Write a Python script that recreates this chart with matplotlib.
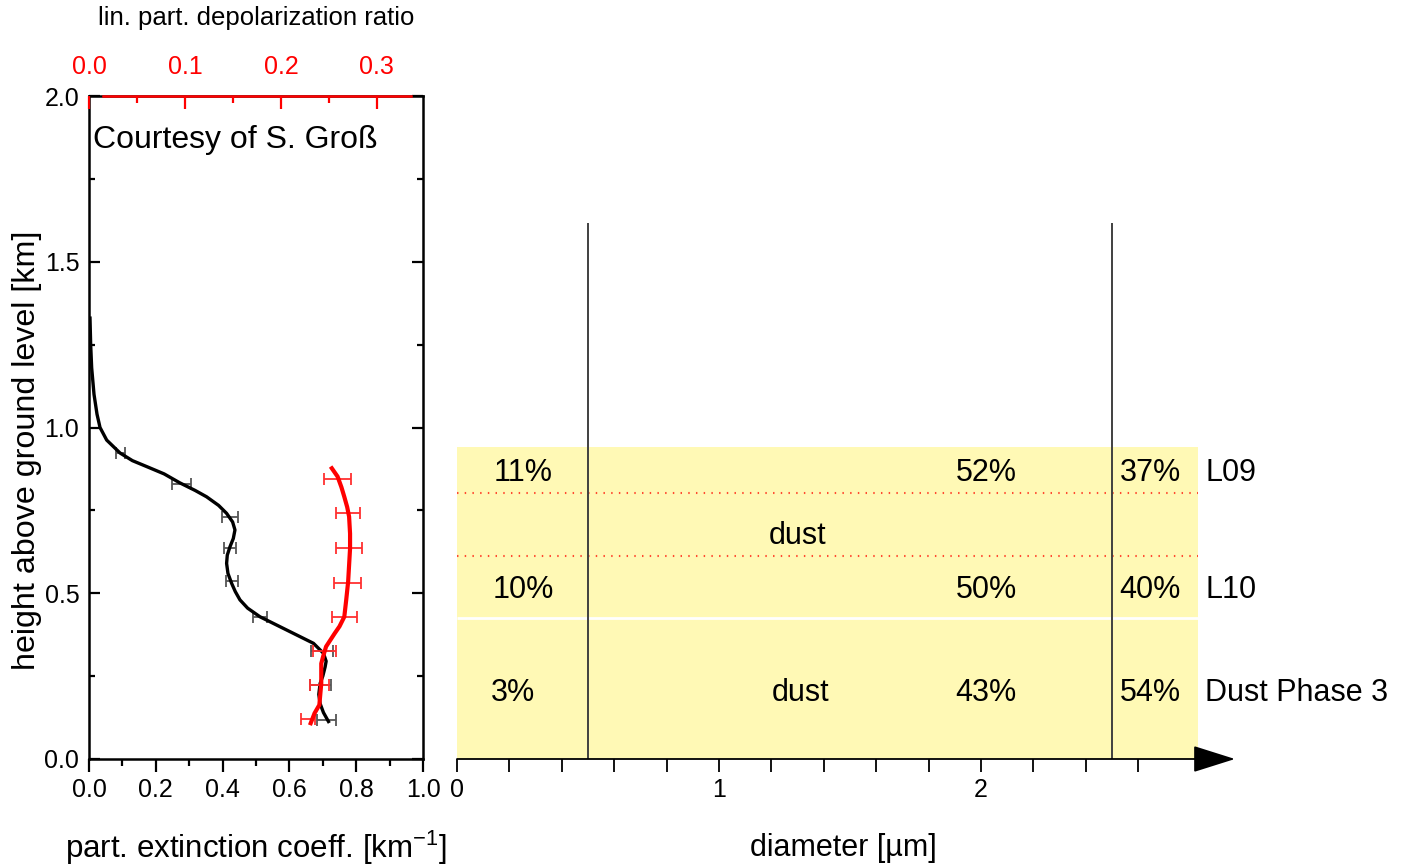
import numpy as np
import matplotlib.pyplot as plt
from matplotlib.patches import Rectangle

plt.rcParams['font.family'] = ['Liberation Sans', 'DejaVu Sans']
plt.rcParams['mathtext.default'] = 'regular'

# extinction profile (black)
ext_h = [1.33, 1.25, 1.18, 1.10, 1.04, 1.0, 0.962, 0.923, 0.900, 0.882, 0.860, 0.833, 0.810,
         0.791, 0.765, 0.741, 0.715, 0.691, 0.665, 0.640, 0.615, 0.590, 0.560, 0.53, 0.505,
         0.48, 0.455, 0.429, 0.405, 0.379, 0.349, 0.319, 0.295, 0.278, 0.250, 0.228, 0.195,
         0.167, 0.140, 0.113]
ext = [0.003, 0.005, 0.008, 0.015, 0.024, 0.033, 0.053, 0.093, 0.130, 0.173, 0.225, 0.272, 0.318,
       0.352, 0.388, 0.412, 0.430, 0.437, 0.432, 0.422, 0.414, 0.412, 0.416, 0.427, 0.438,
       0.452, 0.475, 0.512, 0.560, 0.612, 0.672, 0.702, 0.710, 0.707, 0.700, 0.692, 0.688,
       0.692, 0.702, 0.717]
ext_bar_h = [0.922, 0.829, 0.731, 0.635, 0.537, 0.429, 0.326, 0.223, 0.118]
ext_bar = [0.094, 0.277, 0.422, 0.422, 0.428, 0.513, 0.698, 0.693, 0.711]
ext_err = [0.013, 0.028, 0.025, 0.018, 0.019, 0.021, 0.033, 0.031, 0.029]

# depolarization ratio profile (red)
dep_h = [0.877, 0.852, 0.820, 0.791, 0.760, 0.731, 0.680, 0.635, 0.585, 0.535, 0.480, 0.429,
         0.400, 0.379, 0.339, 0.310, 0.288, 0.228, 0.163, 0.138, 0.108]
dep = [0.253, 0.259, 0.263, 0.266, 0.269, 0.271, 0.272, 0.272, 0.271, 0.270, 0.268, 0.266,
       0.261, 0.256, 0.247, 0.244, 0.242, 0.242, 0.240, 0.235, 0.231]
dep_bar_h = [0.845, 0.741, 0.635, 0.532, 0.429, 0.326, 0.223, 0.120]
dep_bar = [0.259, 0.270, 0.271, 0.269, 0.266, 0.245, 0.240, 0.228]
dep_err = [0.014, 0.0125, 0.0135, 0.014, 0.013, 0.012, 0.010, 0.007]

# size-distribution scheme (right)
cut_sizes = [0.5, 2.5]
row_h = [0.862, 0.509, 0.198]
pct_fine = ['11%', '10%', '3%']
pct_mid = ['52%', '50%', '43%']
pct_coarse = ['37%', '40%', '54%']
row_labels = ['L09', 'L10', 'Dust Phase 3']
layer_lines = [0.802, 0.612]

W, H = 1405, 868
fig = plt.figure(figsize=(W / 100, H / 100), dpi=100)

# left panel
ax = fig.add_axes([89 / W, 109 / H, 334 / W, 663 / H])
ax.set_xlim(0, 1)
ax.set_ylim(0, 2)
ax.plot(ext, ext_h, color='black', lw=2.4, zorder=4)
ax.errorbar(ext_bar, ext_bar_h, xerr=ext_err, fmt='none', ecolor='#555555',
            elinewidth=1.3, capsize=4.5, capthick=1.3, zorder=3)
for s in ax.spines.values():
    s.set_linewidth(1.8)
ax.set_xticks(np.arange(0, 1.01, 0.2))
ax.set_xticks(np.arange(0, 1.01, 0.1), minor=True)
ax.set_yticks(np.arange(0, 2.01, 0.5))
ax.set_yticks(np.arange(0, 2.01, 0.25), minor=True)
ax.xaxis.set_major_formatter(plt.FormatStrFormatter('%.1f'))
ax.yaxis.set_major_formatter(plt.FormatStrFormatter('%.1f'))
ax.tick_params(axis='x', which='both', direction='out', top=False, width=1.6, labelsize=18, pad=4)
ax.tick_params(axis='x', which='major', length=9.5)
ax.tick_params(axis='x', which='minor', length=5)
ax.tick_params(axis='y', which='both', direction='in', left=True, right=True, width=1.6,
               labelsize=18, pad=7)
ax.tick_params(axis='y', which='major', length=8)
ax.tick_params(axis='y', which='minor', length=4.5)
ax.set_xlabel('part. extinction coeff. [km$^{-1}$]', fontsize=22.5, va='center')
ax.xaxis.set_label_coords(0.5, -0.134)
ax.set_ylabel('height above ground level [km]', fontsize=23.2, va='center')
ax.yaxis.set_label_coords(-0.186, 0.466)
ax.text(0.012, 1.867, 'Courtesy of S. Groß', fontsize=23, va='center', ha='left')

ax2 = ax.twiny()
ax2.set_xlim(0, 0.348)
ax2.plot(dep, dep_h, color='red', lw=3, zorder=3)
ax2.errorbar(dep_bar, dep_bar_h, xerr=dep_err, fmt='none', ecolor='#ff3030',
             elinewidth=1.3, capsize=4.5, capthick=1.3, zorder=2)
for k in ['left', 'right', 'bottom']:
    ax2.spines[k].set_visible(False)
ax2.spines['top'].set_color('red')
ax2.spines['top'].set_linewidth(1.8)
ax2.spines['top'].set_bounds(0.0146, 0.335)
ax2.set_xticks(np.arange(0, 0.31, 0.1))
ax2.set_xticks(np.arange(0, 0.34, 0.05), minor=True)
ax2.xaxis.set_major_formatter(plt.FormatStrFormatter('%.1f'))
ax2.tick_params(axis='x', which='both', direction='in', color='red', labelcolor='red',
                width=1.6, labelsize=18, pad=12)
ax2.tick_params(axis='x', which='major', length=9.5)
ax2.tick_params(axis='x', which='minor', length=5)
ax2.set_xlabel('lin. part. depolarization ratio', fontsize=18.5, va='center')
ax2.xaxis.set_label_coords(0.5, 1.118)

# right panel
ax3 = fig.add_axes([457 / W, 109 / H, 778 / W, 663 / H])
ax3.set_xlim(0, 778 / 262)
ax3.set_ylim(0, 2)
for s in ax3.spines.values():
    s.set_visible(False)
ax3.add_patch(Rectangle((0, 0), 2.83, 0.941, facecolor='#fff9b5', edgecolor='none', zorder=0))
ax3.hlines(0.425, 0, 2.83, color='white', lw=2, zorder=1)
ax3.hlines(layer_lines, 0, 2.83, colors='#ff4a30', lw=1.5, linestyles=(0, (0.7, 3.0)), zorder=1)
ax3.vlines(cut_sizes, 0, 1.617, color='#404040', lw=1.4, zorder=2)
ax3.annotate('', xy=(778 / 262, 0), xytext=(0, 0), xycoords='data',
             arrowprops=dict(arrowstyle='-|>,head_length=0.76,head_width=0.24',
                             color='black', lw=1.3, mutation_scale=35,
                             shrinkA=0, shrinkB=0), annotation_clip=False)
ax3.set_yticks([])
ax3.set_xticks([0, 1, 2])
ax3.set_xticks(np.arange(0, 2.61, 0.2), minor=True)
ax3.tick_params(axis='x', which='both', direction='out', length=9.5, width=1.3,
                labelsize=18, pad=4)
ax3.set_xlabel('diameter [µm]', fontsize=22, va='center')
ax3.xaxis.set_label_coords(0.496, -0.134)

fine_x = [0.252, 0.252, 0.214]
for i, y in enumerate(row_h):
    ax3.text(fine_x[i], y, pct_fine[i], fontsize=22, ha='center', va='center')
    ax3.text(2.02, y, pct_mid[i], fontsize=22, ha='center', va='center')
    ax3.text(2.645, y, pct_coarse[i], fontsize=22, ha='center', va='center')
    ax3.text(2.855, y, row_labels[i], fontsize=22, ha='left', va='center', clip_on=False)
ax3.text(1.30, 0.672, 'dust', fontsize=22, ha='center', va='center')
ax3.text(1.31, 0.198, 'dust', fontsize=22, ha='center', va='center')

fig.savefig('out.png', dpi=100)
